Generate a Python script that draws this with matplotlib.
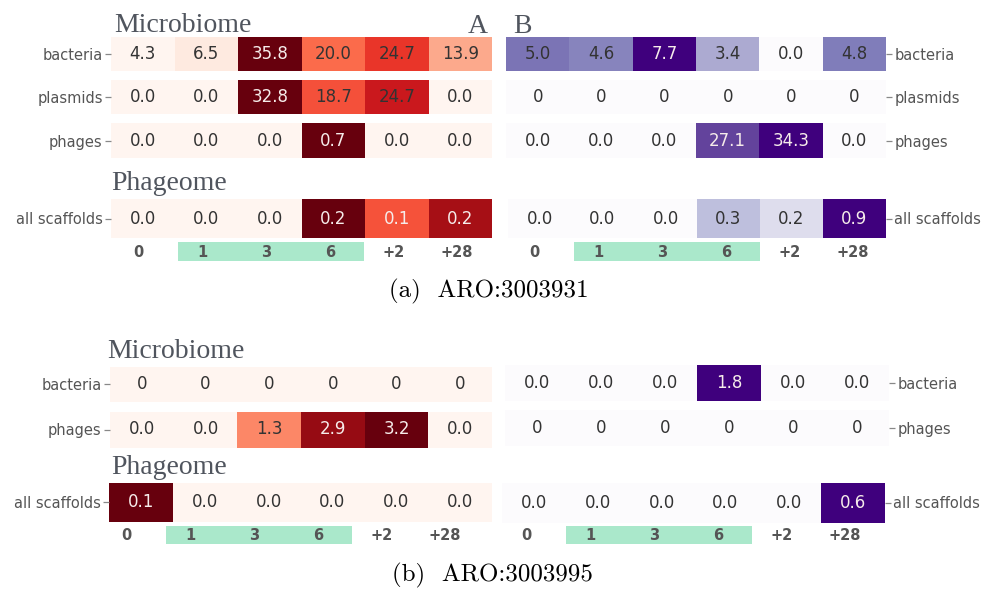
import matplotlib
matplotlib.use("Agg")
import matplotlib.pyplot as plt
from matplotlib.colors import Normalize
from matplotlib.patches import Rectangle
import numpy as np

W, H, DPI = 986, 589, 100

days = ["0", "1", "3", "6", "+2", "+28"]
treatment_days = ["1", "3", "6"]

# ARO:3003931 -- panel A (Reds) and panel B (Purples)
a1_bacteria = [4.3, 6.5, 35.8, 20.0, 24.7, 13.9]
a1_plasmids = [0.0, 0.0, 32.8, 18.7, 24.7, 0.0]
a1_phages = [0.0, 0.0, 0.0, 0.7, 0.0, 0.0]
a1_scaffolds = [0.0, 0.0, 0.0, 0.23, 0.13, 0.20]
b1_bacteria = [5.0, 4.6, 7.7, 3.4, 0.0, 4.8]
b1_plasmids = [0, 0, 0, 0, 0, 0]
b1_phages = [0.0, 0.0, 0.0, 27.1, 34.3, 0.0]
b1_scaffolds = [0.0, 0.0, 0.0, 0.32, 0.2, 0.88]

# ARO:3003995
a2_bacteria = [0, 0, 0, 0, 0, 0]
a2_phages = [0.0, 0.0, 1.3, 2.9, 3.2, 0.0]
a2_scaffolds = [0.1, 0.0, 0.0, 0.0, 0.0, 0.0]
b2_bacteria = [0.0, 0.0, 0.0, 1.8, 0.0, 0.0]
b2_phages = [0, 0, 0, 0, 0, 0]
b2_scaffolds = [0.0, 0.0, 0.0, 0.0, 0.0, 0.6]

fig = plt.figure(figsize=(W / DPI, H / DPI), dpi=DPI)

TITLE_KW = dict(family="Liberation Serif", fontsize=20, color="#50555e", va="baseline")
CAPTION_KW = dict(family="cmr10", fontsize=18, color="black", va="baseline", ha="center")
TICK_GREY = "#555555"
MINT = "#aae8cb"


def box(x0, y0, x1, y1):
    """Pixel box (top-left origin) -> figure fraction rect."""
    return [x0 / W, 1 - y1 / H, (x1 - x0) / W, (y1 - y0) / H]


def heat_row(rect, values, label, cmap, side, light_from=0.78):
    ax = fig.add_axes(box(*rect))
    v = np.asarray(values, dtype=float)
    norm = Normalize(vmin=v.min(), vmax=v.max())
    ax.pcolormesh(np.arange(len(v) + 1), [0, 1], v[None, :], cmap=cmap, norm=norm,
                  shading="flat")
    integer_row = all(isinstance(x, int) for x in values)
    scaled = norm(v) if v.max() > v.min() else np.zeros_like(v)
    for i, x in enumerate(values):
        txt = f"{x:d}" if integer_row else f"{x:.1f}"
        col = "#f6ecea" if scaled[i] >= light_from else "#333333"
        ax.text(i + 0.5, 0.5, txt, ha="center", va="center", fontsize=12, color=col)
    ax.set_xlim(0, len(v))
    ax.set_ylim(0, 1)
    for s in ax.spines.values():
        s.set_visible(False)
    ax.set_xticks([])
    ax.set_yticks([0.5])
    ax.set_yticklabels([label])
    if side == "right":
        ax.yaxis.tick_right()
    ax.tick_params(axis="y", length=4, width=0.9, color="#888888", labelcolor=TICK_GREY,
                   labelsize=10.5, pad=2)
    return ax


def day_strip(rect):
    ax = fig.add_axes(box(*rect))
    ax.set_xlim(0, len(days))
    ax.set_ylim(0, 1)
    ax.axis("off")
    first = days.index(treatment_days[0])
    last = days.index(treatment_days[-1])
    ax.add_patch(Rectangle((first + 0.12, 0), (last + 1.03) - (first + 0.12), 1,
                           facecolor=MINT, edgecolor="none"))
    for i, d in enumerate(days):
        ax.text(i + 0.5, 0.45, d, ha="center", va="center", fontsize=10.5,
                fontweight="bold", color=TICK_GREY)


def ftext(x, y, s, **kw):
    fig.text(x / W, 1 - y / H, s, **kw)


# ---------------- (a) ARO:3003931 ----------------
heat_row((111, 37, 492, 71), a1_bacteria, "bacteria", "Reds", "left")
heat_row((111, 80, 492, 114), a1_plasmids, "plasmids", "Reds", "left")
heat_row((111, 123, 492, 158), a1_phages, "phages", "Reds", "left")
heat_row((111, 199, 492, 238), a1_scaffolds, "all scaffolds", "Reds", "left", light_from=0.5)

heat_row((506, 37, 886, 71), b1_bacteria, "bacteria", "Purples", "right")
heat_row((506, 80, 886, 114), b1_plasmids, "plasmids", "Purples", "right")
heat_row((506, 123, 886, 158), b1_phages, "phages", "Purples", "right")
heat_row((508, 199, 886, 238), b1_scaffolds, "all scaffolds", "Purples", "right")

day_strip((107, 242, 489, 261))
day_strip((503, 242, 885, 261))

ftext(114, 32, "Microbiome", ha="left", **TITLE_KW)
ftext(111, 190, "Phageome", ha="left", **TITLE_KW)
ftext(488, 33, "A", ha="right", **TITLE_KW)
ftext(513, 33, "B", ha="left", **TITLE_KW)
ftext(489, 297, "(a)  ARO:3003931", **CAPTION_KW)

# ---------------- (b) ARO:3003995 ----------------
heat_row((110, 367, 492, 401.5), a2_bacteria, "bacteria", "Reds", "left")
heat_row((110, 411.5, 492, 447.5), a2_phages, "phages", "Reds", "left")
heat_row((109, 482.5, 492, 522), a2_scaffolds, "all scaffolds", "Reds", "left")

heat_row((505, 365, 889, 401), b2_bacteria, "bacteria", "Purples", "right")
heat_row((505, 410, 889, 446), b2_phages, "phages", "Purples", "right")
heat_row((502, 482.5, 885, 522.5), b2_scaffolds, "all scaffolds", "Purples", "right")

day_strip((95, 526, 477, 544))
day_strip((495, 526, 877, 544))

ftext(107, 358, "Microbiome", ha="left", **TITLE_KW)
ftext(111, 474, "Phageome", ha="left", **TITLE_KW)
ftext(492, 581, "(b)  ARO:3003995", **CAPTION_KW)

fig.savefig("out.png", dpi=DPI)
